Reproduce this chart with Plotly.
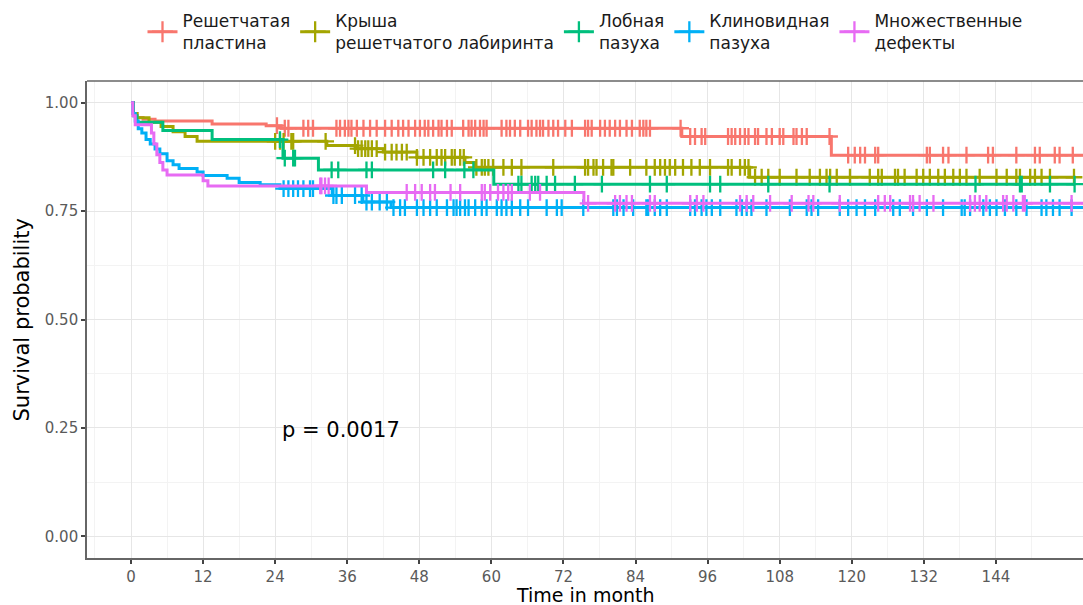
import numpy as np
import plotly.graph_objects as go

# ---------------- data ----------------
group_names = ["Решетчатая<br>пластина", "Крыша<br>решетчатого лабиринта",
               "Лобная<br>пазуха", "Клиновидная<br>пазуха", "Множественные<br>дефекты"]
group_colors = ["#F8766D", "#A3A500", "#00BF7D", "#00B0F6", "#E76BF3"]

# Решетчатая пластина
plate_event_t = [0, 0.4, 1.0, 2.0, 4.0, 13.5, 22.5, 25.0, 91.7, 116.6]
plate_surv = [1.0, 0.975, 0.966, 0.962, 0.958, 0.951, 0.947, 0.941, 0.922, 0.879]
plate_censor = [24.3, 25.6, 26.2, 28.7, 29.5, 30.3, 34.2, 34.8, 35.6, 36.2, 36.7, 37.6, 38.7,
                39.8, 40.9, 42.3, 43.4, 44.5, 45.3, 46.2, 47.3, 48.1, 48.9, 49.5, 50.3, 51.2,
                51.7, 52.6, 53.4, 55.3, 56.2, 56.7, 57.3, 58.1, 58.7, 59.2, 61.7, 62.5, 63.1,
                63.9, 64.8, 66.1, 66.7, 67.5, 68.1, 68.6, 69.5, 70.3, 71.1, 72.3, 73.4, 75.6,
                76.1, 76.7, 78.1, 78.9, 79.7, 80.6, 81.4, 82.5, 83.4, 84.7, 85.3, 85.8, 86.4,
                91.5, 93.1, 93.9, 95.0, 95.6, 99.4, 100.0, 100.6, 101.4, 102.2, 102.8, 103.9,
                104.4, 105.8, 106.7, 108.0, 108.6, 110.3, 110.8, 111.7, 112.5, 116.3, 119.4,
                120.5, 121.4, 122.2, 123.9, 124.4, 132.5, 133.0, 135.2, 136.1, 139.1, 142.7,
                143.5, 147.4, 150.5, 151.3, 153.8, 154.6, 156.8, 159.5]

# Крыша решетчатого лабиринта
roof_event_t = [0, 0.4, 1.0, 3.0, 5.0, 7.0, 9.0, 11.0, 32.6, 37.5, 42.0, 47.6, 55.6, 57.2, 103.0]
roof_surv = [1.0, 0.975, 0.965, 0.955, 0.945, 0.933, 0.922, 0.911, 0.901, 0.894, 0.886,
             0.874, 0.862, 0.851, 0.828]
roof_censor = [24.0, 24.8, 25.4, 26.7, 27.0, 32.4, 37.3, 37.8, 38.4, 39.0, 39.5, 40.1, 40.9,
               42.3, 43.4, 44.2, 45.1, 45.9, 47.6, 48.7, 49.8, 50.9, 51.7, 52.3, 53.4, 53.9,
               54.8, 55.4, 57.5, 58.4, 58.9, 59.5, 60.3, 62.0, 63.4, 65.0, 70.3, 75.6, 76.1,
               77.0, 77.5, 78.6, 80.0, 80.3, 83.1, 85.8, 87.2, 88.1, 88.9, 89.7, 90.6, 91.9,
               93.3, 94.7, 96.4, 99.4, 100.0, 101.4, 102.2, 102.8, 103.9, 105.0, 106.1, 108.0,
               110.8, 113.0, 114.7, 115.8, 116.4, 117.5, 119.7, 123.0, 124.4, 125.0, 127.2,
               127.7, 128.8, 130.8, 131.9, 133.0, 134.4, 135.5, 136.9, 138.0, 139.1, 141.3,
               144.1, 145.8, 147.4, 148.0, 149.7, 150.5, 151.6, 153.0, 157.0]

# Лобная пазуха
frontal_event_t = [0, 0.4, 1.0, 5.3, 13.5, 25.3, 31.2, 60.4]
frontal_surv = [1.0, 0.97, 0.955, 0.936, 0.915, 0.872, 0.845, 0.812]
frontal_censor = [24.8, 25.6, 27.0, 27.3, 33.4, 34.5, 39.2, 40.1, 50.3, 52.3, 55.5, 57.0,
                  64.5, 65.0, 66.7, 67.3, 67.8, 69.2, 70.6, 73.9, 78.4, 86.4, 89.2, 96.4,
                  98.1, 106.1, 116.3, 140.6, 148.0, 148.3, 153.0, 157.1]

# Клиновидная пазуха
sphenoid_event_t = [0, 0.3, 0.7, 1.2, 1.8, 2.5, 3.2, 4.0, 4.8, 6.0, 7.0, 8.0, 11.0, 12.0,
                    16.0, 18.0, 21.5, 24.8, 33.5, 38.6, 43.3]
sphenoid_surv = [1.0, 0.975, 0.958, 0.94, 0.93, 0.915, 0.905, 0.893, 0.882, 0.866, 0.857,
                 0.848, 0.84, 0.832, 0.826, 0.816, 0.811, 0.802, 0.786, 0.771, 0.758]
sphenoid_censor = [25.4, 26.2, 27.0, 27.8, 28.7, 29.8, 30.3, 33.7, 34.2, 35.1, 37.3, 38.4,
                   39.2, 40.1, 41.4, 42.6, 43.7, 44.8, 45.6, 47.6, 48.7, 49.8, 50.9, 52.6,
                   53.7, 54.2, 54.8, 55.6, 56.2, 57.3, 58.4, 59.2, 60.9, 61.7, 62.5, 63.4,
                   64.8, 66.1, 69.2, 70.9, 71.7, 75.3, 80.3, 80.9, 82.0, 83.6, 85.8, 86.1,
                   87.2, 88.1, 89.2, 93.1, 93.9, 95.0, 95.8, 96.7, 98.1, 100.8, 101.7, 102.5,
                   103.3, 105.8, 109.7, 112.5, 113.3, 114.4, 118.0, 119.4, 120.8, 122.2,
                   123.9, 126.9, 128.0, 130.2, 132.5, 135.2, 138.3, 138.8, 139.7, 141.9,
                   143.0, 144.1, 145.5, 147.4, 149.1, 151.6, 152.4, 153.5, 154.6, 156.6, 159.5]

# Множественные дефекты
multiple_event_t = [0, 0.3, 0.7, 3.4, 3.8, 4.3, 4.8, 5.3, 6.0, 12.0, 12.8, 39.2, 75.4]
multiple_surv = [1.0, 0.97, 0.949, 0.93, 0.905, 0.88, 0.862, 0.845, 0.833, 0.82, 0.808,
                 0.793, 0.768]
multiple_censor = [31.5, 31.7, 32.3, 32.9, 45.9, 47.3, 48.4, 49.8, 50.6, 53.2, 54.8, 58.4,
                   58.9, 59.8, 61.1, 62.0, 62.8, 63.4, 66.4, 68.1, 76.1, 80.6, 81.4, 82.5,
                   83.4, 86.4, 87.2, 93.1, 94.2, 95.3, 101.4, 102.5, 103.6, 106.4, 110.0,
                   112.8, 113.6, 118.0, 124.4, 125.5, 126.4, 129.7, 130.2, 131.3, 133.6,
                   139.7, 140.5, 141.3, 142.4, 145.2, 145.8, 146.9, 148.5, 148.8, 156.6, 159.5]

x_ticks = list(range(0, 145, 12))
y_ticks = [0.0, 0.25, 0.5, 0.75, 1.0]
p_text = "p = 0.0017"

series = [
    (plate_event_t, plate_surv, plate_censor),
    (roof_event_t, roof_surv, roof_censor),
    (frontal_event_t, frontal_surv, frontal_censor),
    (sphenoid_event_t, sphenoid_surv, sphenoid_censor),
    (multiple_event_t, multiple_surv, multiple_censor),
]

FONT = "DejaVu Sans"
fig = go.Figure()


def surv_at(ev_t, ev_s, t):
    idx = np.searchsorted(np.asarray(ev_t), t, side="right") - 1
    return np.asarray(ev_s)[idx]


for (ev_t, ev_s, cens), name, col in zip(series, group_names, group_colors):
    cens = np.asarray(cens)
    all_t = np.unique(np.concatenate([np.asarray(ev_t, float), cens]))
    all_s = surv_at(ev_t, ev_s, all_t)
    fig.add_trace(go.Scatter(x=all_t, y=all_s, mode="lines", line=dict(color=col, width=3, shape="hv"),
                             showlegend=False, hoverinfo="skip"))
    fig.add_trace(go.Scatter(x=cens, y=surv_at(ev_t, ev_s, cens), mode="markers",
                             marker=dict(symbol="cross-thin", size=12, line=dict(color=col, width=2.3)),
                             showlegend=False, hoverinfo="skip"))

# legend-only entries
for name, col in zip(group_names, group_colors):
    fig.add_trace(go.Scatter(x=[None], y=[None], mode="lines+markers", name=name,
                             line=dict(color=col, width=3),
                             marker=dict(symbol="cross-thin", size=15, line=dict(color=col, width=2.3))))

fig.add_annotation(x=24.8, y=0.245, xref="x", yref="y", text=p_text, showarrow=False,
                   xanchor="left", yanchor="middle", font=dict(family=FONT, size=21, color="black"))
fig.add_annotation(x=0.5, y=-0.077, xref="paper", yref="paper", text="Time in month", showarrow=False,
                   xanchor="center", yanchor="middle", font=dict(family=FONT, size=19, color="black"))
fig.add_annotation(x=-0.0653, y=0.5, xref="paper", yref="paper", text="Survival probability",
                   showarrow=False, textangle=-90, xanchor="center", yanchor="middle",
                   font=dict(family=FONT, size=21, color="black"))

axis_common = dict(showgrid=True, gridcolor="#E6E6E6", gridwidth=1.2, zeroline=False,
                   ticks="outside", ticklen=4, tickwidth=1.6, tickcolor="#444",
                   tickfont=dict(family=FONT, size=15, color="#5A5A5A"),
                   showline=True, linecolor="#666", linewidth=1.6)

fig.update_xaxes(range=[-7.33, 158.5], tickvals=x_ticks, ticktext=[str(v) for v in x_ticks],
                 minor=dict(tickvals=[v + 6 for v in x_ticks] + [-6], showgrid=True,
                            gridcolor="#F3F3F3", gridwidth=1, ticks=""),
                 **axis_common)
fig.update_yaxes(range=[-0.05, 1.05], tickvals=y_ticks, ticktext=[f"{v:.2f}" for v in y_ticks],
                 minor=dict(tickvals=[0.125, 0.375, 0.625, 0.875], showgrid=True,
                            gridcolor="#F3F3F3", gridwidth=1, ticks=""),
                 **axis_common)

# top border of the panel
fig.add_shape(type="line", xref="paper", yref="paper", x0=0, x1=1, y0=1, y1=1,
              line=dict(color="#666", width=1.6))

fig.update_layout(
    width=1083, height=605,
    margin=dict(l=87, r=0, t=81, b=47),
    paper_bgcolor="white", plot_bgcolor="white",
    font=dict(family=FONT, size=15, color="black"),
    legend=dict(orientation="h", x=0.5, xanchor="center", yref="container", y=0.995, yanchor="top",
                font=dict(family=FONT, size=17, color="#1a1a1a"), itemwidth=30,
                bgcolor="rgba(0,0,0,0)"),
)

fig.write_html("out.html")
